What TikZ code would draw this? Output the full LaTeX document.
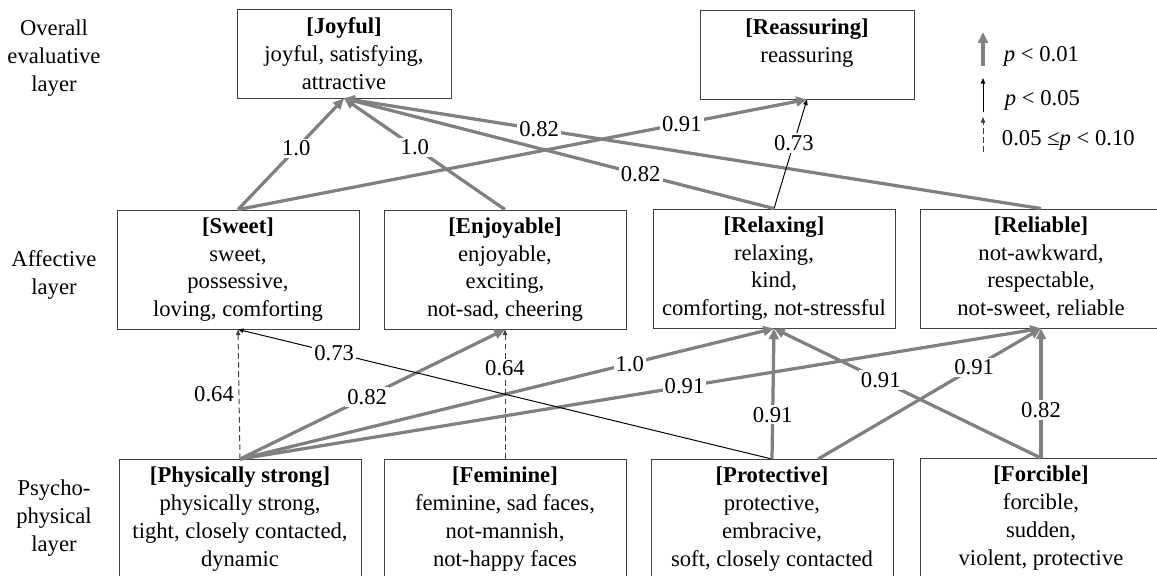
\documentclass[tikz,border=0pt]{standalone}
\usepackage{fontspec}
\setmainfont{Liberation Serif}
\usetikzlibrary{arrows.meta, positioning, calc}
\definecolor{arrGray}{HTML}{808080}
\definecolor{boxLine}{HTML}{404040}

\begin{document}
\begin{tikzpicture}[x=0.025cm, y=-0.025cm,
    font=\fontsize{16.1}{19.8}\selectfont,
    topbox/.style={rectangle, draw=boxLine, line width=0.6pt, minimum width=5.35cm,
      minimum height=2.225cm, align=center, inner xsep=2pt, inner ysep=0pt},
    midbox/.style={topbox, minimum width=6.05cm, minimum height=2.975cm, inner ysep=2pt},
    layer/.style={align=center},
    sarr/.style={-{Triangle[length=0.27cm, width=0.24cm]}, line width=2.3pt, arrGray},
    tarr/.style={-{Triangle[length=0.14cm, width=0.11cm]}, line width=0.7pt, black},
    darr/.style={tarr, dashed, dash pattern=on 4pt off 2.5pt, boxLine},
    coef/.style={fill=white, inner sep=1.5pt, text=black}
  ]
  \useasboundingbox (0,0) rectangle (1157,576);
  \clip (0,0) rectangle (1157,576);

  % layer names
  \node[layer] (lay1) at (54,58)  {Overall\\evaluative\\layer};
  \node[layer] (lay2) at (54,275) {Affective\\layer};
  \node[layer] (lay3) at (54,518) {Psycho-\\physical\\layer};

  % overall evaluative layer
  \node[topbox] (joyful)     at (344,53.5) {\rule{0pt}{17.5pt}\textbf{[Joyful]}\\joyful, satisfying,\\attractive\strut};
  \node[topbox] (reassuring) at (807,54.5) {\rule{0pt}{17.5pt}\textbf{[Reassuring]}\\reassuring\\\strut};

  % affective layer
  \node[midbox] (sweet)     at (238,269.5)  {\strut\textbf{[Sweet]}\\sweet,\\possessive,\\loving, comforting\strut};
  \node[midbox] (enjoyable) at (505,269.5)  {\strut\textbf{[Enjoyable]}\\enjoyable,\\exciting,\\not-sad, cheering\strut};
  \node[midbox] (relaxing)  at (774,268.5)  {\strut\textbf{[Relaxing]}\\relaxing,\\kind,\\comforting, not-stressful\strut};
  \node[midbox] (reliable)  at (1041,268.5) {\strut\textbf{[Reliable]}\\not-awkward,\\respectable,\\not-sweet, reliable\strut};

  % psycho-physical layer
  \node[midbox] (strong)     at (240,519)  {\strut\textbf{[Physically strong]}\\physically strong,\\tight, closely contacted,\\dynamic\strut};
  \node[midbox] (feminine)   at (505,519)  {\strut\textbf{[Feminine]}\\feminine, sad faces,\\not-mannish,\\not-happy faces\strut};
  \node[midbox] (protective) at (772,519)  {\strut\textbf{[Protective]}\\protective,\\embracive,\\soft, closely contacted\strut};
  \node[midbox] (forcible)   at (1041,518) {\strut\textbf{[Forcible]}\\forcible,\\sudden,\\violent, protective\strut};

  % affective -> overall
  \draw[sarr] (sweet.north) -- (joyful.south) node[coef, pos=0.55] {1.0};
  \draw[sarr] (enjoyable.north) -- (joyful.south) node[coef, pos=0.56] {1.0};
  \draw[sarr] (sweet.north) -- (reassuring.south) node[coef, pos=0.78] {0.91};
  \draw[sarr] (relaxing.north) -- (joyful.south) node[coef, pos=0.31] {0.82};
  \draw[sarr] (reliable.north) -- (joyful.south) node[coef, pos=0.72] {0.82};
  \draw[tarr] (relaxing.north) -- (reassuring.south) node[coef, pos=0.6] {0.73};

  % psycho-physical -> affective
  \draw[darr] (strong.north) -- (sweet.south) node[left, pos=0.5, text=black] {0.64};
  \draw[sarr] (strong.north) -- (enjoyable.south) node[coef, pos=0.48] {0.82};
  \draw[sarr] (strong.north) -- (relaxing.south) node[coef, pos=0.73] {1.0};
  \draw[sarr] (strong.north) -- (reliable.south) node[coef, pos=0.555] {0.91};
  \draw[darr] (feminine.north) -- (enjoyable.south) node[coef, pos=0.7] {0.64};
  \draw[tarr] (protective.north) -- (sweet.south) node[coef, pos=0.82] {0.73};
  \draw[sarr] (protective.north) -- (relaxing.south) node[coef, pos=0.34] {0.91};
  \draw[sarr] ([xshift=1.15cm]protective.north) -- (reliable.south) node[coef, pos=0.7] {0.91};
  \draw[sarr] (forcible.north) -- (relaxing.south) node[coef, pos=0.6] {0.91};
  \draw[sarr] (forcible.north) -- (reliable.south) node[coef, pos=0.37] {0.82};

  % legend
  \coordinate (k1a) at (983,66);  \coordinate (k1b) at (983,32);
  \coordinate (k2a) at (983,112); \coordinate (k2b) at (983,78);
  \coordinate (k3a) at (983,152); \coordinate (k3b) at (983,117);
  \draw[sarr] (k1a) -- (k1b);
  \draw[tarr] (k2a) -- (k2b);
  \draw[darr] (k3a) -- (k3b);
  \node[anchor=west] (key1) at (999,56)  {\textit{p} < 0.01};
  \node[anchor=west] (key2) at (1000,100) {\textit{p} < 0.05};
  \node[anchor=west] (key3) at (997,140) {0.05 ≤\textit{p} < 0.10};
\end{tikzpicture}
\end{document}
